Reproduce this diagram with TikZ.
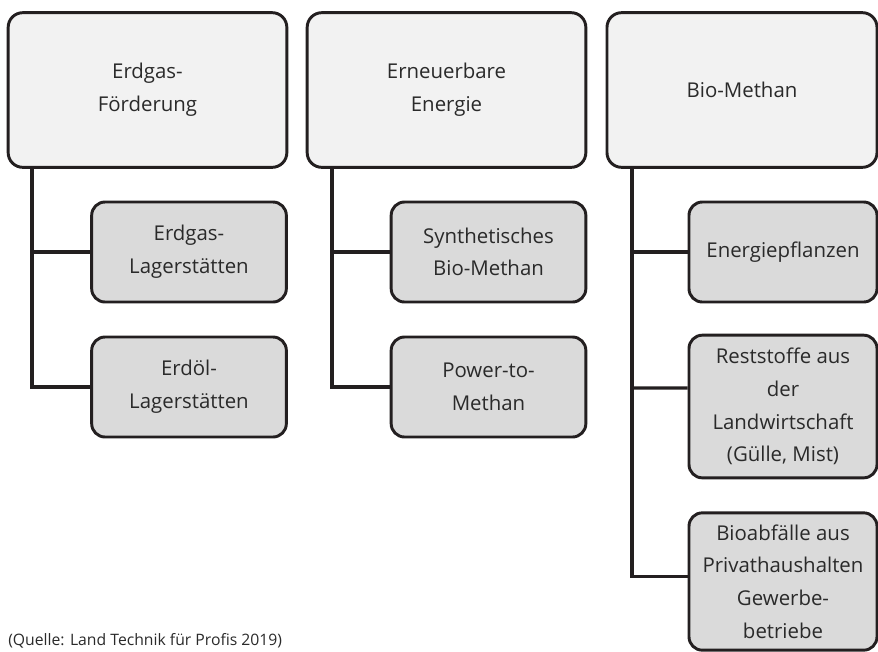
\documentclass[tikz,border=0pt]{standalone}
\usepackage{fontspec}
\setmainfont{Open Sans}
\usepackage{xcolor}
\usepackage{tikz}
\definecolor{rim}{HTML}{231F20}
\definecolor{ink}{HTML}{2A2A2A}
\definecolor{headfill}{HTML}{F2F2F2}
\definecolor{kidfill}{HTML}{DADADA}

\begin{document}
\begin{tikzpicture}[x=0.75pt, y=-0.75pt,
    headbox/.style={draw=rim, fill=headfill, line width=2.2pt, rounded corners=11pt,
        align=center, text=ink, minimum width=209pt, minimum height=116pt,
        font=\fontsize{15.3}{24.5}\selectfont},
    kidbox/.style={draw=rim, fill=kidfill, line width=2.2pt, rounded corners=10pt,
        align=center, text=ink, minimum width=146pt, minimum height=75pt,
        font=\fontsize{15.3}{24.5}\selectfont},
    link/.style={draw=rim, line width=2.4pt}]
            \useasboundingbox (0,0) rectangle (878,651);
            % Top row
            \node[headbox] (top1) at (147.5,90) {Erdgas-\\Förderung};
            \node[headbox] (top2) at (446.5,90) {Erneuerbare\\Energie};
            \node[headbox, minimum width=202.5pt] (top3) at (742,90) {Bio-Methan};
            % Trunks
            \coordinate (trunk1) at (32,168);
            \coordinate (trunk2) at (332,168);
            \coordinate (trunk3) at (632,168);
            % Erdgas
            \node[kidbox] (kid11) at (189,252) {Erdgas-\\Lagerstätten};
            \node[kidbox] (kid12) at (189,387) {Erdöl-\\Lagerstätten};
            % Erneuerbar
            \node[kidbox] (kid21) at (488.5,252) {Synthetisches\\Bio-Methan};
            \node[kidbox] (kid22) at (488.5,387) {Power-to-\\Methan};
            % Bio-Methan
            \node[kidbox, minimum width=141pt] (kid31) at (783,252) {Energiepflanzen};
            \node[kidbox, minimum width=141pt, minimum height=107pt] (kid32) at (783,406.5)
                {Reststoffe aus\\der\\Landwirtschaft\\(Gülle, Mist)};
            \node[kidbox, minimum width=141pt, minimum height=103pt] (kid33) at (783,581.5)
                {Bioabfälle aus\\Privathaushalten\\Gewerbe-\\betriebe};
            % Connectors
            \draw[link] (trunk1) |- (kid12.west);
            \draw[link] (trunk1 |- kid11.west) -- (kid11.west);
            \draw[link] (trunk2) |- (kid22.west);
            \draw[link] (trunk2 |- kid21.west) -- (kid21.west);
            \draw[link] (trunk3) |- ([yshift=4pt]kid33.west);
            \draw[link] (trunk3 |- kid31.west) -- (kid31.west);
            \draw[link] (trunk3 |- 0,388) -- ([yshift=13.9pt]kid32.west);
            % Source
            \node[anchor=base west, inner sep=0pt, text=ink, font=\fontsize{11.8}{13}\selectfont] (source) at (8,645)
                {(Quelle: Land Technik für Profis 2019)};
\end{tikzpicture}
\end{document}
